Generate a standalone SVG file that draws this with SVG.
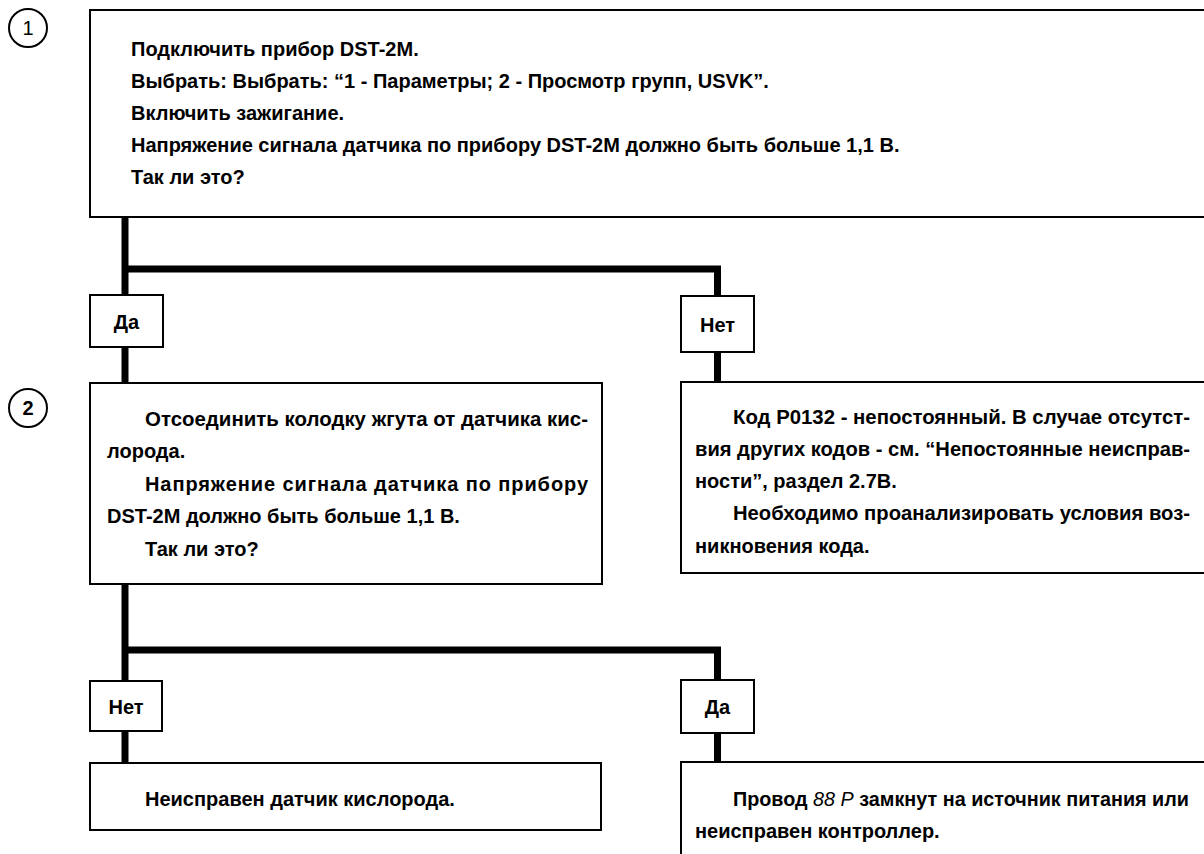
<svg xmlns="http://www.w3.org/2000/svg" width="1204" height="854" viewBox="0 0 1204 854">
<style>
.box{fill:#fff;stroke:#000;stroke-width:2}
.lbl{fill:#fff;stroke:#000;stroke-width:2}
.t{font-family:"Liberation Sans",Arial,sans-serif;font-weight:bold;font-size:20px;fill:#000}
.c{text-anchor:middle}
.conn{fill:none;stroke:#000;stroke-width:7;stroke-linejoin:miter;stroke-linecap:butt}
.circ{fill:#fff;stroke:#000;stroke-width:2}
</style>
<rect width="1204" height="854" fill="#fff"/>
<g id="connectors">
<path class="conn" d="M125,217 V383"/>
<path class="conn" d="M125,269 H717.5 V382"/>
<path class="conn" d="M125,584 V763"/>
<path class="conn" d="M125,650 H717.5 V762"/>
</g>
<g id="step1">
<circle class="circ" cx="28" cy="28" r="19"/>
<text class="t c" x="28" y="35" style="font-weight:normal">1</text>
</g>
<g id="node1">
<rect class="box" x="90" y="10" width="1120" height="207"/>
<text class="t" x="131" y="56">Подключить прибор DST-2M.</text>
<text class="t" x="131" y="88">Выбрать: Выбрать: “1 - Параметры; 2 - Просмотр групп, USVK”.</text>
<text class="t" x="131" y="120">Включить зажигание.</text>
<text class="t" x="131" y="152">Напряжение сигнала датчика по прибору DST-2M должно быть больше 1,1 В.</text>
<text class="t" x="131" y="184">Так ли это?</text>
</g>
<g id="label-yes1">
<rect class="lbl" x="90" y="295" width="73" height="52"/>
<text class="t c" x="126.5" y="329">Да</text>
</g>
<g id="label-no1">
<rect class="lbl" x="681" y="296" width="73" height="56"/>
<text class="t c" x="717.5" y="332">Нет</text>
</g>
<g id="step2">
<circle class="circ" cx="28" cy="408" r="19"/>
<text class="t c" x="28" y="415">2</text>
</g>
<g id="node2">
<rect class="box" x="90" y="383" width="512" height="201"/>
<text class="t" x="145" y="426" textLength="443" lengthAdjust="spacingAndGlyphs">Отсоединить колодку жгута от датчика кис-</text>
<text class="t" x="107" y="458">лорода.</text>
<text class="t" x="145" y="491" textLength="443" lengthAdjust="spacing">Напряжение сигнала датчика по прибору</text>
<text class="t" x="107" y="523">DST-2M должно быть больше 1,1 В.</text>
<text class="t" x="145" y="556">Так ли это?</text>
</g>
<g id="node3">
<rect class="box" x="681" y="382" width="530" height="191"/>
<text class="t" x="733" y="424" textLength="457" lengthAdjust="spacingAndGlyphs">Код P0132 - непостоянный. В случае отсутст-</text>
<text class="t" x="695" y="456" textLength="495" lengthAdjust="spacingAndGlyphs">вия других кодов - см. “Непостоянные неисправ-</text>
<text class="t" x="695" y="488">ности”, раздел 2.7В.</text>
<text class="t" x="733" y="520" textLength="457" lengthAdjust="spacingAndGlyphs">Необходимо проанализировать условия воз-</text>
<text class="t" x="695" y="553">никновения кода.</text>
</g>
<g id="label-no2">
<rect class="lbl" x="90" y="681" width="72" height="50"/>
<text class="t c" x="126" y="714">Нет</text>
</g>
<g id="label-yes2">
<rect class="lbl" x="681" y="680" width="73" height="53"/>
<text class="t c" x="717.5" y="714">Да</text>
</g>
<g id="node4">
<rect class="box" x="90" y="763" width="511" height="67"/>
<text class="t" x="145" y="806">Неисправен датчик кислорода.</text>
</g>
<g id="node5">
<rect class="box" x="681" y="762" width="530" height="100"/>
<text class="t" x="733" y="806" textLength="456" lengthAdjust="spacingAndGlyphs">Провод <tspan font-style="italic" font-weight="normal">88 P</tspan> замкнут на источник питания или</text>
<text class="t" x="695" y="838">неисправен контроллер.</text>
</g>
</svg>
